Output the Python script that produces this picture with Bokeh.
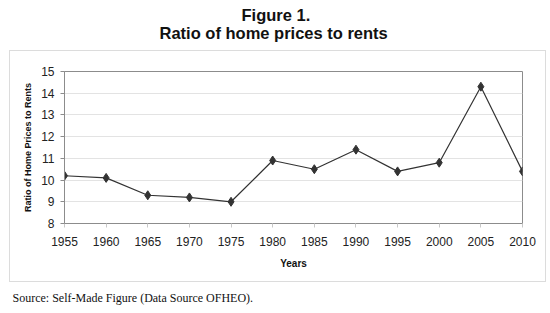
from bokeh.plotting import figure
from bokeh.models import Title, FixedTicker, Range1d, InlineStyleSheet
from bokeh.embed import file_html
from bokeh.resources import INLINE

years = [1955, 1960, 1965, 1970, 1975, 1980, 1985, 1990, 1995, 2000, 2005, 2010]
ratio = [10.2, 10.1, 9.3, 9.2, 9.0, 10.9, 10.5, 11.4, 10.4, 10.8, 14.3, 10.4]
y_ticks = [8, 9, 10, 11, 12, 13, 14, 15]

title_1 = "Figure 1."
title_2 = "Ratio of home prices to rents"
x_title = "Years"
y_title = "Ratio of Home Prices to Rents"
source_text = "Source: Self-Made Figure (Data Source OFHEO)."

FL, FR, FT, FB = 64, 28, 71, 90
W, H = 550, 313

box_css = InlineStyleSheet(css="""
:host::after {
  content: '';
  position: absolute;
  left: 9px; top: 50px; width: 537px; height: 232px;
  border: 1px solid #dcdcdc;
  box-sizing: border-box;
  pointer-events: none;
}
""")

p = figure(width=W, height=H, output_backend="svg", toolbar_location=None,
           x_range=Range1d(1955, 2010), y_range=Range1d(8, 15),
           min_border_left=FL, min_border_right=FR, min_border_top=FT,
           min_border_bottom=FB, stylesheets=[box_css])
p.outline_line_color = "#8c8c8c"
p.outline_line_width = 1
p.xgrid.visible = False
p.ygrid.grid_line_color = "#e3e3e3"
p.ygrid.ticker = FixedTicker(ticks=y_ticks)

p.xaxis.ticker = FixedTicker(ticks=years)
p.yaxis.ticker = FixedTicker(ticks=y_ticks)
for ax in (p.xaxis[0], p.yaxis[0]):
    ax.axis_line_color = "#8c8c8c"
    ax.major_tick_in = 0
    ax.major_tick_out = 4
    ax.minor_tick_line_color = None
    ax.major_label_text_font = "Liberation Sans"
    ax.major_label_text_font_size = "12px"
    ax.major_label_text_color = "#222222"
    ax.axis_label_text_font = "Liberation Sans"
    ax.axis_label_text_font_style = "bold"
    ax.axis_label_text_color = "#111111"
p.xaxis.major_tick_line_color = "#c8c8c8"
p.yaxis.major_tick_line_color = "#8c8c8c"
p.xaxis.major_label_standoff = 9
p.yaxis.major_label_standoff = 6
p.xaxis.axis_label = x_title
p.xaxis.axis_label_text_font_size = "10px"
p.xaxis.axis_label_standoff = 9
p.yaxis.axis_label = y_title
p.yaxis.axis_label_text_font_size = "9px"
p.yaxis.axis_label_standoff = 5

p.line(years, ratio, line_color="#333333", line_width=1.2)
p.scatter(years, ratio, marker="diamond", size=9, fill_color="#333333",
          line_color="#333333")

def spacer(gap, side):
    p.add_layout(Title(text=".", text_font_size="4px", text_color="#ffffff",
                       standoff=gap), side)

spacer(25, "above")
p.add_layout(Title(text=title_2, align="left", offset=95, text_font="Liberation Sans",
                   text_font_size="16.5px", text_font_style="bold",
                   text_color="#111111", standoff=0), "above")
p.add_layout(Title(text=title_1, align="left", offset=177, text_font="Liberation Sans",
                   text_font_size="16.5px", text_font_style="bold",
                   text_color="#111111", standoff=-4), "above")
spacer(12, "below")
p.add_layout(Title(text=source_text, align="left", offset=-52, text_font="Liberation Serif",
                   text_font_size="12px", text_font_style="normal",
                   text_color="#111111", standoff=0), "below")

open("out.html", "w").write(file_html(p, INLINE))
